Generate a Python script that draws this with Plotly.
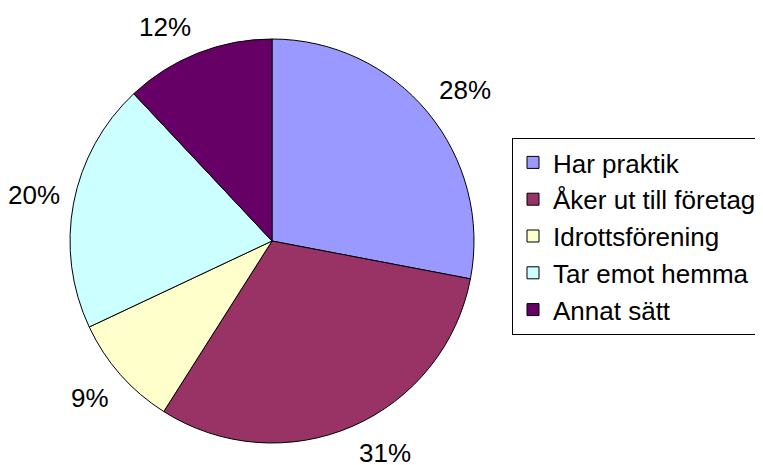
import math
import plotly.graph_objects as go

labels = ["Har praktik", "Åker ut till företag", "Idrottsförening", "Tar emot hemma", "Annat sätt"]
values = [28, 31, 9, 20, 12]
colors = ["#9999FF", "#993366", "#FFFFCC", "#CCFFFF", "#660066"]

W, H = 763, 465
OFF = 8  # page body margin
dom_x = [(70 - OFF) / W, (474 - OFF) / W]
dom_y = [1 - (443 - OFF) / H, 1 - (39 - OFF) / H]

fig = go.Figure(go.Pie(
    labels=labels, values=values, sort=False, direction="clockwise", rotation=0,
    marker=dict(colors=colors, line=dict(color="black", width=1)),
    textinfo="none",
    domain=dict(x=dom_x, y=dom_y),
    showlegend=True,
))

# percentage labels placed outside each slice, anchored at its mid-angle
cx_px = (dom_x[0] + dom_x[1]) / 2 * W
cy_px = (1 - (dom_y[0] + dom_y[1]) / 2) * H
R_px = (dom_x[1] - dom_x[0]) * W / 2
label_r = 1.06 * R_px
half_h = 15
total = sum(values)
cum = 0
for v in values:
    mid = (cum + v / 2) / total * 2 * math.pi
    cum += v
    dx, dy = math.sin(mid), -math.cos(mid)
    px = cx_px + label_r * dx
    py = cy_px + label_r * dy + half_h * max(-1.0, min(1.0, 2 * dy))
    fig.add_annotation(
        x=px / W, y=1 - py / H, xref="paper", yref="paper",
        text=f"{round(v / total * 100)}%", showarrow=False,
        xanchor="left" if dx > 0 else "right", yanchor="middle",
        font=dict(family="Liberation Sans, Arial", size=26, color="black"),
    )

fig.update_layout(
    width=W, height=H, margin=dict(l=0, r=0, t=0, b=0),
    paper_bgcolor="white", plot_bgcolor="white",
    font=dict(family="Liberation Sans, Arial", size=26, color="black"),
    legend=dict(x=(512 - OFF) / W, y=1 - (138 - OFF) / H, xanchor="left", yanchor="top",
                bordercolor="black", borderwidth=1, bgcolor="white",
                font=dict(size=26), itemwidth=30),
)
fig.write_html("out.html")
